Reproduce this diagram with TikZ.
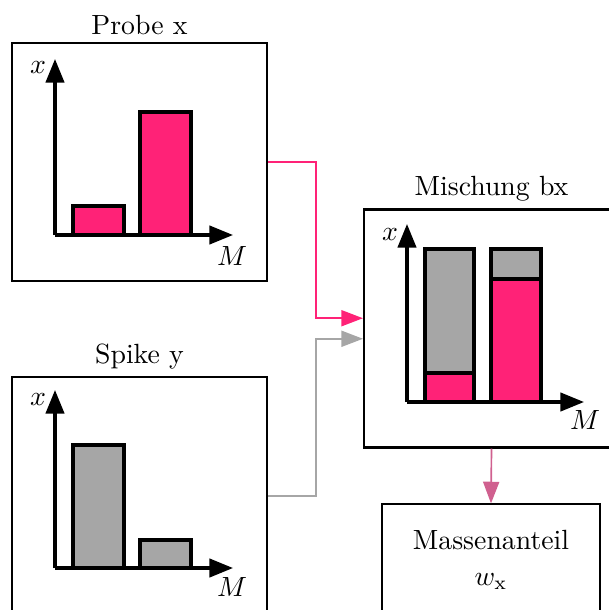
\documentclass[tikz,border=0pt]{standalone}
\usetikzlibrary{arrows.meta,positioning}
\definecolor{probepink}{HTML}{FF2277}
\definecolor{spikegray}{HTML}{A6A6A6}
\definecolor{resultpink}{HTML}{D0608F}
\tikzset{
  panel/.style={draw, line width=0.75pt, minimum width=91.8pt, minimum height=85.7pt, inner sep=0pt},
  paneltitle/.style={font=\normalsize, inner sep=0pt, yshift=2.3pt},
  axis/.style={line width=1.15pt, -{Triangle[length=8.5pt,width=6.6pt]}},
  bar/.style={draw, line width=1.15pt},
  flow/.style={line width=0.6pt, -{Triangle[length=7.8pt,width=5.8pt]}},
  resultbox/.style={draw, line width=0.75pt, minimum width=78.5pt, minimum height=40pt, align=center, inner sep=0pt}
}
\begin{document}
\begin{tikzpicture}[x=0.36pt,y=-0.36pt]
\useasboundingbox (0,0) rectangle (609,610);
\clip (0,0) rectangle (609,610);

% panels
\node[panel, label={[paneltitle]above:Probe x}] (probe) at (139.5,162) {};
\node[panel, label={[paneltitle]above:Spike y}] (spike) at (139.5,496) {};
\node[panel, label={[paneltitle]above:Mischung bx}] (mix) at (491.5,328.5) {};
\node[resultbox] (mass) at (491,560) {Massenanteil\\[1pt]$w_\mathrm{x}$};

% sample spectrum
\coordinate (po) at (55,235);
\draw[bar, fill=probepink] (73,235) rectangle (124,206);
\draw[bar, fill=probepink] (140,235) rectangle (191,112);
\draw[axis] (po) -- (55,59);
\draw[axis] (po) -- (233,235);
\node at (38,68) {$x$};
\node at (232,256) {$M$};

% spike spectrum
\coordinate (so) at (55,568);
\draw[bar, fill=spikegray] (73,568) rectangle (124,445);
\draw[bar, fill=spikegray] (140,568) rectangle (191,540);
\draw[axis] (so) -- (55,390);
\draw[axis] (so) -- (233,568);
\node at (38,400) {$x$};
\node at (232,587) {$M$};

% blend spectrum
\coordinate (mo) at (407,402);
\draw[bar, fill=spikegray] (425,373) rectangle (474,249);
\draw[bar, fill=probepink] (425,402) rectangle (474,373);
\draw[bar, fill=spikegray] (491,279) rectangle (541,249);
\draw[bar, fill=probepink] (491,402) rectangle (541,279);
\draw[axis] (mo) -- (407,224);
\draw[axis] (mo) -- (584,402);
\node at (390,235) {$x$};
\node at (585,420) {$M$};

% connectors
\coordinate (bend) at (316,0);
\coordinate (pinA) at ([yshift=3.7pt]mix.west);
\coordinate (pinB) at ([yshift=-3.7pt]mix.west);
\draw[flow, probepink] (probe.east) -| (bend |- pinA) -- (pinA);
\draw[flow, spikegray] (spike.east) -| (bend |- pinB) -- (pinB);
\draw[flow, resultpink] (mix.south) -- (mass.north);
\end{tikzpicture}
\end{document}
